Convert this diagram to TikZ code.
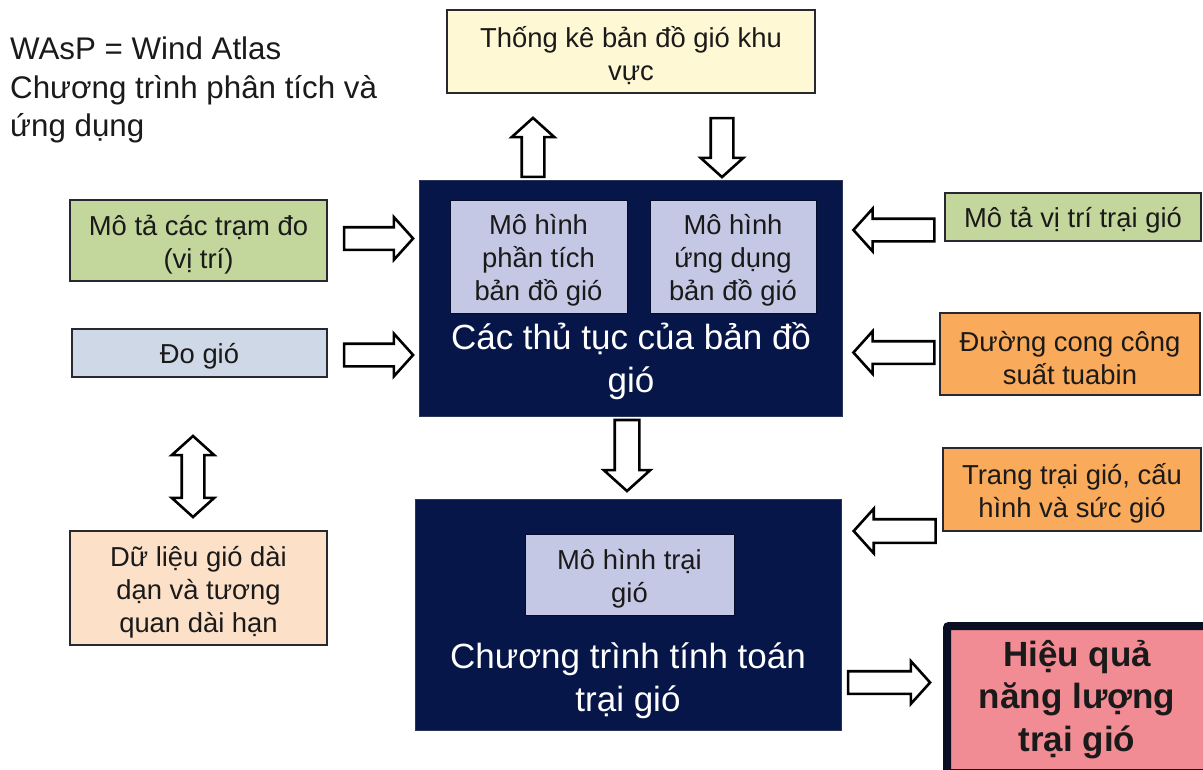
\documentclass[tikz,border=0pt]{standalone}
\usepackage{fontspec}
\setmainfont{Liberation Sans}
\usetikzlibrary{shapes.arrows,calc}

\definecolor{navy}{RGB}{6,22,72}
\definecolor{lavender}{RGB}{196,200,228}
\definecolor{cream}{RGB}{255,248,212}
\definecolor{olive}{RGB}{195,214,155}
\definecolor{steel}{RGB}{206,216,230}
\definecolor{peach}{RGB}{252,224,200}
\definecolor{amber}{RGB}{249,170,90}
\definecolor{rose}{RGB}{242,140,148}
\definecolor{edge}{RGB}{40,40,48}
\definecolor{ink}{RGB}{26,26,26}
\definecolor{frame}{RGB}{10,14,35}

\begin{document}
\begin{tikzpicture}[x=1pt,y=-1pt,
  box/.style={draw=edge, line width=1.4pt, inner sep=0pt},
  boxtext/.style={align=center, text=ink, inner sep=0pt,
    font=\fontsize{27.4}{33}\selectfont},
  panel/.style={draw=navy!70!gray, line width=0.8pt, fill=navy, inner sep=0pt},
  model/.style={box, fill=lavender, draw=navy!60!black, line width=1pt},
  heading/.style={align=center, text=white, font=\fontsize{35}{43}\selectfont},
  blockarrow/.style={single arrow, draw=black, fill=white, line width=2.6pt,
    inner sep=10pt, minimum width=40, single arrow head extend=10,
    single arrow tip angle=96},
  twoway/.style={double arrow, draw=black, fill=white, line width=2.6pt,
    inner sep=10pt, minimum width=40, double arrow head extend=10,
    double arrow tip angle=96}]
\useasboundingbox (0,0) rectangle (1203,769);

% title text
\node[anchor=north west, align=left, text=ink, inner sep=0pt,
  font=\fontsize{31.3}{38.5}\selectfont] (title) at (10,37)
  {WAsP = Wind Atlas\\Chương trình phân tích và\\ứng dụng};

% regional wind atlas statistics
\node[box, fill=cream, minimum width=368, minimum height=83] (atlas)
  at (631,51.5) {};
\node[boxtext] (atlastext) at ($(atlas)+(0,4)$) {Thống kê bản đồ gió khu\\vực};

% wind atlas procedures
\node[panel, minimum width=423, minimum height=236] (proc) at (630.5,298) {};
\node[model, minimum width=177, minimum height=113] (analysis)
  at (538.5,256.5) {};
\node[boxtext] (analysistext) at ($(analysis)+(0,4)$)
  {Mô hình\\phần tích\\bản đồ gió};
\node[model, minimum width=166, minimum height=113] (application)
  at (733,256.5) {};
\node[boxtext] (applicationtext) at ($(application)+(0,4)$)
  {Mô hình\\ứng dụng\\bản đồ gió};
\node[heading] (proclbl) at (631,361) {Các thủ tục của bản đồ\\gió};

% wind farm calculation
\node[panel, minimum width=426, minimum height=231] (farm) at (628,614.5) {};
\node[model, minimum width=209, minimum height=81] (farmmodel)
  at (629.5,574.5) {};
\node[boxtext] (farmmodeltext) at ($(farmmodel)+(0,4)$) {Mô hình trại\\gió};
\node[heading] (farmlbl) at (628,681) {Chương trình tính toán\\trại gió};

% left inputs
\node[box, fill=olive, minimum width=257, minimum height=81] (stations)
  at (198.5,240.5) {};
\node[boxtext] (stationstext) at ($(stations)+(0,4)$)
  {Mô tả các trạm đo\\(vị trí)};
\node[box, fill=steel, minimum width=255, minimum height=48] (measure)
  at (199.5,353) {};
\node[boxtext] (measuretext) at ($(measure)+(0,3)$) {Đo gió};
\node[box, fill=peach, minimum width=257, minimum height=114] (longterm)
  at (198.5,588) {};
\node[boxtext] (longtermtext) at ($(longterm)+(0,4)$)
  {Dữ liệu gió dài\\dạn và tương\\quan dài hạn};

% right inputs
\node[box, fill=olive, minimum width=256, minimum height=48] (site)
  at (1073,217) {};
\node[boxtext] (sitetext) at ($(site)+(0,3)$) {Mô tả vị trí trại gió};
\node[box, fill=amber, minimum width=260, minimum height=82] (curve)
  at (1070,354) {};
\node[boxtext] (curvetext) at ($(curve)+(0,4)$) {Đường cong công\\suất tuabin};
\node[box, fill=amber, minimum width=258, minimum height=83] (layout)
  at (1072,489.5) {};
\node[boxtext] (layouttext) at ($(layout)+(0,4)$)
  {Trang trại gió, cấu\\hình và sức gió};

% result
\node[draw=frame, line width=8pt, fill=rose, rounded corners=2pt,
  minimum width=260, minimum height=147, inner sep=0pt, align=center,
  text=ink, font=\bfseries\fontsize{35}{42.5}\selectfont] (yield)
  at (1077,699.5) {Hiệu quả\\năng lượng\\trại gió};

% block arrows between the boxes
\node[blockarrow, minimum height=59, shape border rotate=90] (toatlas)
  at (533,152.5) {};
\node[blockarrow, minimum height=59, shape border rotate=270] (fromatlas)
  at (722,142.5) {};
\node[blockarrow, minimum height=69] (fromstations) at (373.5,238.5) {};
\node[blockarrow, minimum height=69] (frommeasure) at (373.5,355) {};
\node[blockarrow, minimum height=81, shape border rotate=180] (fromsite)
  at (899,230) {};
\node[blockarrow, minimum height=81, shape border rotate=180] (fromcurve)
  at (899,352.5) {};
\node[blockarrow, minimum height=71, minimum width=44, inner sep=11pt,
  single arrow head extend=11, shape border rotate=270] (procfarm)
  at (627,450) {};
\node[blockarrow, minimum height=82, minimum width=42, inner sep=10.5pt,
  single arrow head extend=10.5, shape border rotate=180] (fromlayout)
  at (900,531) {};
\node[blockarrow, minimum height=82, minimum width=41] (toyield)
  at (884,682.5) {};
\node[twoway, minimum height=81, shape border rotate=90] (measurelong)
  at (193,476.5) {};
\end{tikzpicture}
\end{document}
